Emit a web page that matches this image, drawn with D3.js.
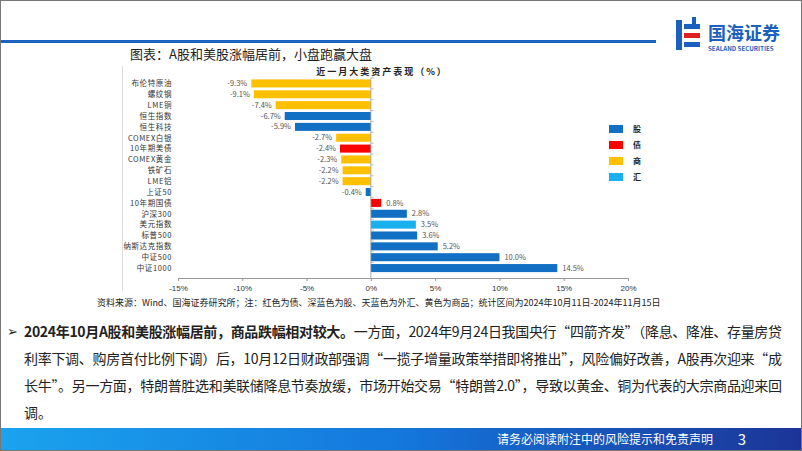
<!DOCTYPE html>
<html><head><meta charset="utf-8">
<script src="https://cdn.jsdelivr.net/npm/d3@7"></script>
<style>
html,body{margin:0;padding:0;background:#fff;}
svg{display:block;font-family:"Noto Sans CJK SC","Noto Sans",sans-serif;}
</style></head>
<body><svg id="c" width="802" height="451"></svg>
<script>
const categories = ["布伦特原油","螺纹钢","LME铜","恒生指数","恒生科技","COMEX白银","10年期美债","COMEX黄金","铁矿石","LME铝","上证50","10年期国债","沪深300","美元指数","标普500","纳斯达克指数","中证500","中证1000"];
const values = [-9.3,-9.1,-7.4,-6.7,-5.9,-2.7,-2.4,-2.3,-2.2,-2.2,-0.4,0.8,2.8,3.5,3.6,5.2,10.0,14.5];
const assetType = ["商","商","商","股","股","商","债","商","商","商","股","债","股","汇","股","股","股","股"];
const legendLabels = ["股","债","商","汇"];
const xTicks = [-15,-10,-5,0,5,10,15,20];
const colorOf = {"股":"#1170c4","债":"#ff0000","商":"#ffc000","汇":"#19b0f0"};

const svg = d3.select("#c");
// page frame
svg.append("rect").attr("x",0.5).attr("y",0.5).attr("width",801).attr("height",450).attr("fill","none").attr("stroke","#777");
// header line
svg.append("rect").attr("x",1).attr("y",40).attr("width",655).attr("height",3).attr("fill","#1b63c0");
// logo
const lg = svg.append("g");
lg.append("rect").attr("x",676).attr("y",20).attr("width",6).attr("height",30).attr("fill","#1b5fbf");
lg.append("rect").attr("x",684).attr("y",24).attr("width",16).attr("height",5).attr("fill","#1b5fbf");
lg.append("rect").attr("x",684).attr("y",33).attr("width",16).attr("height",5).attr("fill","#e02020");
lg.append("rect").attr("x",684).attr("y",42).attr("width",16).attr("height",5).attr("fill","#1b5fbf");
lg.append("rect").attr("x",692).attr("y",17).attr("width",4).attr("height",10).attr("fill","#1b5fbf");
lg.append("text").attr("x",708).attr("y",40).attr("font-size",18).attr("font-weight","bold").attr("fill","#1b5fbf").text("国海证券");
lg.append("text").attr("x",708).attr("y",51).attr("font-size",6.2).attr("font-weight","bold").attr("fill","#1b5fbf").text("SEALAND SECURITIES");

// chart caption
svg.append("text").attr("x",130).attr("y",59).attr("font-size",13).attr("fill","#222").text("图表：A股和美股涨幅居前，小盘跑赢大盘");
// chart panel left border
svg.append("line").attr("x1",122.5).attr("x2",122.5).attr("y1",66).attr("y2",291).attr("stroke","#ddd");

svg.append("text").attr("x",382).attr("y",75).attr("text-anchor","middle").attr("font-size",9).attr("font-weight","bold").attr("letter-spacing",2).attr("fill","#222").text("近一月大类资产表现（%）");

const x = d3.scaleLinear().domain([-15,20]).range([178,628]);
const y = d3.scaleBand().domain(categories).range([78,273.5]).paddingInner(0.26).paddingOuter(0.13);

const g = svg.append("g");
g.selectAll("rect.bar").data(categories).join("rect").attr("class","bar")
  .attr("x",(d,i)=>Math.min(x(0),x(values[i])))
  .attr("width",(d,i)=>Math.abs(x(values[i])-x(0)))
  .attr("y",d=>y(d)).attr("height",y.bandwidth())
  .attr("fill",(d,i)=>colorOf[assetType[i]]);

g.selectAll("text.val").data(categories).join("text").attr("class","val")
  .attr("x",(d,i)=>values[i]<0 ? x(values[i])-4 : x(values[i])+5)
  .attr("y",d=>y(d)+y.bandwidth()/2+2.6)
  .attr("text-anchor",(d,i)=>values[i]<0?"end":"start")
  .attr("font-size",7.5).attr("fill","#555")
  .text((d,i)=>values[i].toFixed(1)+"%");

g.selectAll("text.cat").data(categories).join("text").attr("class","cat")
  .attr("x",172).attr("y",d=>y(d)+y.bandwidth()/2+2.8)
  .attr("text-anchor","end").attr("font-size",7.5).attr("letter-spacing",0.6).attr("fill","#333")
  .text(d=>d);

// zero axis with ticks
g.append("line").attr("x1",x(0)).attr("x2",x(0)).attr("y1",78).attr("y2",278).attr("stroke","#999").attr("stroke-width",0.8);
g.selectAll("line.yt").data(categories).join("line").attr("class","yt")
  .attr("x1",x(0)).attr("x2",x(0)+3).attr("y1",d=>y(d)-y.step()*y.paddingInner()/2).attr("y2",d=>y(d)-y.step()*y.paddingInner()/2)
  .attr("stroke","#999").attr("stroke-width",0.6);

// x axis
const xa = svg.append("g").attr("transform","translate(0,278)")
  .call(d3.axisBottom(x).tickValues(xTicks).tickSize(3).tickFormat(d=>d+"%"));
xa.select(".domain").attr("stroke","#999");
xa.selectAll(".tick line").attr("stroke","#999");
xa.selectAll(".tick text").attr("font-size",8).attr("fill","#333").attr("dy","0.9em").attr("font-family","Liberation Sans, Arial, sans-serif");

// legend
const leg = svg.append("g");
legendLabels.forEach((l,i)=>{
  leg.append("rect").attr("x",609).attr("y",125+i*16).attr("width",14).attr("height",8).attr("fill",colorOf[l]);
  leg.append("text").attr("x",633).attr("y",132+i*16).attr("font-size",8).attr("font-weight","bold").attr("fill","#222").text(l);
});

// source
svg.append("text").attr("x",97).attr("y",306).attr("font-size",9).attr("fill","#222")
  .text("资料来源：Wind、国海证券研究所；注：红色为债、深蓝色为股、天蓝色为外汇、黄色为商品；统计区间为2024年10月11日-2024年11月15日");

// paragraph
svg.append("text").attr("x",7).attr("y",336).attr("font-size",13).attr("fill","#222").text("➢");
const lines = [
  [["2024年10月A股和美股涨幅居前，商品跌幅相对较大。",true],["一方面，2024年9月24日我国央行“四箭齐发”（降息、降准、存量房贷",false]],
  [["利率下调、购房首付比例下调）后，10月12日财政部强调“一揽子增量政策举措即将推出”，风险偏好改善，A股再次迎来“成",false]],
  [["长牛”。另一方面，特朗普胜选和美联储降息节奏放缓，市场开始交易“特朗普2.0”，导致以黄金、铜为代表的大宗商品迎来回",false]],
  [["调。",false]]
];
lines.forEach((ln,i)=>{
  const t = svg.append("text").attr("x",24).attr("y",337+i*27).attr("font-size",14).attr("fill","#222");
  ln.forEach(s=>t.append("tspan").attr("font-weight",s[1]?"bold":"normal").text(s[0]));
  if(i<3){ t.attr("textLength",758).attr("lengthAdjust","spacing"); }
});

// footer
const defs = svg.append("defs");
const gr = defs.append("linearGradient").attr("id","fg").attr("x1","0").attr("x2","1");
gr.append("stop").attr("offset","0").attr("stop-color","#1aa3ee");
gr.append("stop").attr("offset","0.5").attr("stop-color","#1477dc");
gr.append("stop").attr("offset","1").attr("stop-color","#1c3497");
svg.append("rect").attr("x",1).attr("y",428).attr("width",800).attr("height",22).attr("fill","url(#fg)");
svg.append("text").attr("x",605).attr("y",444).attr("text-anchor","middle").attr("font-size",12).attr("fill","#fff").text("请务必阅读附注中的风险提示和免责声明");
svg.append("text").attr("x",742).attr("y",445).attr("text-anchor","middle").attr("font-size",15).attr("fill","#fff").text("3");
</script></body></html>
